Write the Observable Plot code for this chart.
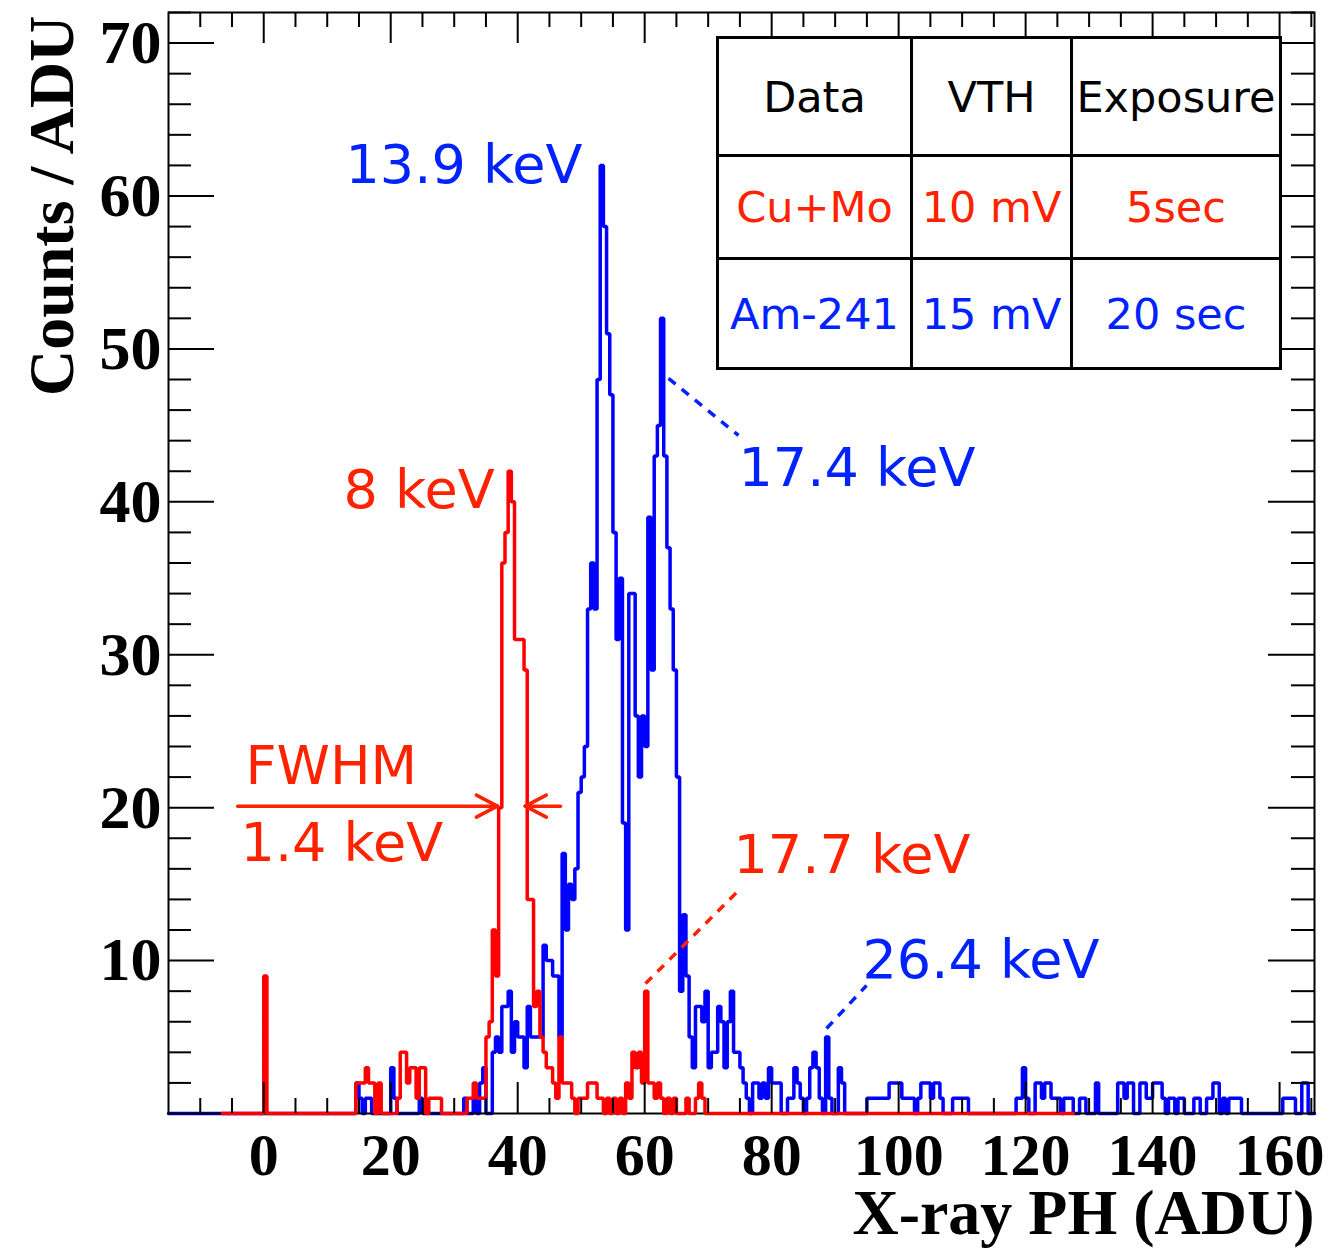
<!DOCTYPE html>
<html><head><meta charset="utf-8">
<script src="https://cdn.jsdelivr.net/npm/d3@7"></script>
<script src="https://cdn.jsdelivr.net/npm/@observablehq/plot@0.6"></script>
<style>
body{margin:0;background:#fff;}
#wrap{position:relative;width:1332px;height:1248px;overflow:hidden;}
#tbl{position:absolute;left:716px;top:36px;width:566px;height:334px;box-sizing:border-box;border:3px solid #000;background:#000;
 display:grid;grid-template-columns:191px 157px 206px;grid-template-rows:115px 100px 107px;gap:3px;
 font-family:"DejaVu Sans",sans-serif;font-size:43px;}
#tbl div{background:#fff;display:flex;align-items:center;justify-content:center;white-space:nowrap;}
</style></head><body><div id="wrap"></div>
<script>
// ---- data (bin lower edge in ADU, counts); bins are 0.5 ADU wide ----
const binWidth = 0.5;
const redRange = [-6.5, 127.5];
const blueRange = [-15, 165.5];
const redBins = [[0,9],
 [14.5,2],[15,2],[15.5,2],[16,3],[16.5,2],[17,2],[18,2],
 [21,1],[21.5,4],[22,4],[22.5,2],[23,3],[23.5,3],[24,1],[24.5,3],[25,3],[26,1],[26.5,1],[27,1],[27.5,1],
 [32,1],[32.5,1],[33,2],[33.5,1],[34,1],[34.5,1],[35,5],[35.5,6],[36,12],[36.5,9],
 [37,20],[37.5,36],[38,38],[38.5,42],[39,40],[39.5,31],[40,31],[40.5,31],[41,29],[41.5,14],[42,14],
 [42.5,7],[43,8],[43.5,5],[44,4],[44.5,3],[45,3],[45.5,2],[46,1],[46.5,5],[47,2],[47.5,2],[48,2],[48.5,1],
 [49.5,1],[50,1],[50.5,1],[51,2],[51.5,2],[52,2],[52.5,1],[53,1],[54,1],[55,1],[56,1],
 [57,2],[57.5,1],[58,4],[58.5,3],[59,4],[59.5,2],[60,8],[60.5,2],[61,2],[61.5,1],[62,2],[62.5,1],
 [63.5,1],[64.5,1],[66.5,1],[68,1],[68.5,2],[69,1]];
const blueBins = [
 [14.5,2],[15,1],[16,1],[16.5,1],[20,3],[20.5,1],[24.5,1],[31.5,1],[33,1],[34,2],[34.5,3],
 [36,4],[36.5,5],[37,4],[37.5,7],[38,7],[38.5,8],[39,4],[39.5,6],[40,5],[40.5,5],[41,3],[41.5,7],
 [42,5],[42.5,5],[43,5],[43.5,5],[44,11],[44.5,10],[45,10],[45.5,9],[46,9],[46.5,5],[47,17],[47.5,12],
 [48,15],[48.5,14],[49,16],[49.5,21],[50,22],[50.5,24],[51,33],[51.5,36],[52,33],[52.5,48],[53,62],
 [53.5,58],[54,51],[54.5,47],[55,38],[55.5,31],[56,35],[56.5,19],[57,12],[57.5,34],[58,34],[58.5,26],
 [59,22],[59.5,26],[60,24],[60.5,39],[61,29],[61.5,43],[62,45],[62.5,52],[63,43],[63.5,37],[64,33],
 [64.5,29],[65,22],[65.5,8],[66,13],[66.5,9],[67,5],[67.5,3],[68,7],[68.5,7],[69,6],[69.5,8],[70,3],
 [70.5,4],[71,4],[71.5,7],[72,6],[72.5,3],[73,6],[73.5,8],[74,4],[74.5,4],[75,3],[75.5,2],[76,1],
 [77,2],[77.5,2],[78,1],[78.5,2],[79,1],[79.5,3],[80,2],[80.5,2],[81,2],[82.5,1],[83,1],[83.5,3],
 [84,2],[84.5,1],[85.5,1],[86,3],[86.5,4],[87,3],[87.5,1],[88.5,5],[89,1],[90.5,3],[91,2],
 [95,1],[95.5,1],[96,1],[96.5,1],[97,1],[97.5,1],[98,1],[98.5,2],[99,2],[99.5,2],[100,2],[100.5,1],
 [101,1],[101.5,1],[102,1],[103,1],[103.5,2],[104,2],[104.5,2],[105,1],[105.5,2],[106,2],[106.5,1],
 [108.5,1],[109,1],[109.5,1],[110,1],[110.5,1],[118.5,1],[119,1],[119.5,3],[120,1],[121.5,2],[122,2],
 [122.5,1],[123,2],[123.5,2],[124,1],[124.5,1],[125,1],[126,1],[126.5,1],[127,1],[128.5,1],[129,1],
 [131,2],[134.5,2],[135,2],[135.5,1],[136,2],[136.5,2],[138,2],[138.5,2],[139,1],[139.5,1],[140,2],
 [140.5,2],[141,2],[141.5,1],[142.5,1],[143,1],[144,1],[144.5,1],[146.5,1],[147,1],[148.5,1],[149,1],
 [149.5,2],[150,2],[151,1],[152,1],[152.5,1],[153,1],[153.5,1],[160.5,1],[161,1],[161.5,1],[162,1],
 [163.5,2],[164,2]];

const xMajor = [0,20,40,60,80,100,120,140,160];
const xMinor = [-10,-5,5,10,15,25,30,35,45,50,55,65,70,75,85,90,95,105,110,115,125,130,135,145,150,155,165];
const yMajor = [10,20,30,40,50,60,70];
const yMinor = [2,4,6,8,12,14,16,18,22,24,26,28,32,34,36,38,42,44,46,48,52,54,56,58,62,64,66,68,72];

const annoText  = ["13.9 keV","17.4 keV","8 keV","FWHM","1.4 keV","17.7 keV","26.4 keV"];
const annoX     = [12.88, 74.78, 12.57, -2.87, -3.65, 73.99, 94.31];
const annoY     = [61.96, 42.14, 40.70, 22.71, 17.61, 16.83, 9.96];
const annoColor = ["b","b","r","r","r","r","b"];

// FWHM arrows: tail x, tip x, y (data units)
const arrowTail = [-4.1, 46.74];
const arrowTip  = [36.8, 41.2];
const arrowY    = 20.1;
const dashes = [
 {x1:63.76,y1:48.07,x2:74.78,y2:44.34,c:"b"},
 {x1:60.13,y1:8.50,x2:74.47,y2:14.45,c:"r"},
 {x1:88.64,y1:5.56,x2:94.94,y2:8.37,c:"b"}];

const tableRows = [["Data","VTH","Exposure"],["Cu+Mo","10 mV","5sec"],["Am-241","15 mV","20 sec"]];
const tableColors = ["#000","#ff2200","#0022ff"];

// ---- build step data ----
function steps(bins, range){
  const m = new Map(bins.map(([e,c])=>[e,c]));
  const n = Math.round((range[1]-range[0])/binWidth);
  const pts = [];
  for(let i=0;i<n;i++){const e = range[0]+i*binWidth; pts.push({x:e, y:m.get(e) ?? 0});}
  pts.push({x:range[1], y:0});
  return pts;
}
const redSteps = steps(redBins, redRange);
const blueSteps = steps(blueBins, blueRange);

const HIST_RED = "#ff0000", HIST_BLUE = "#0000ff";
const TXT_RED = "#ff2200", TXT_BLUE = "#0022ff";
const W=1332, H=1248, mL=168, mR=18, mT=12, mB=135;
const fw=W-mL-mR, fh=H-mT-mB;
const xDomain=[-15,165.5], yDomain=[0,72];
const serif = "'Liberation Serif','Times New Roman',serif";
const sans = "'DejaVu Sans',sans-serif";

// arrow segments (shaft + two wings of ~21px x 11px)
const pxX = (xDomain[1]-xDomain[0])/fw, pxY = (yDomain[1]-yDomain[0])/fh;
const arrowSegs = [];
arrowTip.forEach((tip,i)=>{
  const dir = Math.sign(tip-arrowTail[i]);
  arrowSegs.push({x1:arrowTail[i],y1:arrowY,x2:tip,y2:arrowY});
  arrowSegs.push({x1:tip,y1:arrowY,x2:tip-dir*21*pxX,y2:arrowY+11*pxY});
  arrowSegs.push({x1:tip,y1:arrowY,x2:tip-dir*21*pxX,y2:arrowY-11*pxY});
});

const chart = Plot.plot({
  width:W, height:H, marginLeft:mL, marginRight:mR, marginTop:mT, marginBottom:mB,
  x:{domain:xDomain, axis:null},
  y:{domain:yDomain, axis:null},
  style:{background:"white", overflow:"visible"},
  marks:[
    Plot.line(blueSteps,{x:"x",y:"y",curve:"step-after",stroke:HIST_BLUE,strokeWidth:3.5,strokeLinejoin:"miter"}),
    Plot.frame({stroke:"black",strokeWidth:2}),
    Plot.line(redSteps,{x:"x",y:"y",curve:"step-after",stroke:HIST_RED,strokeWidth:3.5,strokeLinejoin:"miter"}),
    // ticks bottom/top
    Plot.tickX(xMajor,{x:d=>d,insetTop:fh-31,stroke:"black",strokeWidth:2}),
    Plot.tickX(xMinor,{x:d=>d,insetTop:fh-15,stroke:"black",strokeWidth:2}),
    Plot.tickX(xMajor,{x:d=>d,insetBottom:fh-31,stroke:"black",strokeWidth:2}),
    Plot.tickX(xMinor,{x:d=>d,insetBottom:fh-15,stroke:"black",strokeWidth:2}),
    // ticks left/right
    Plot.tickY(yMajor,{y:d=>d,insetRight:fw-46,stroke:"black",strokeWidth:2}),
    Plot.tickY(yMinor,{y:d=>d,insetRight:fw-23,stroke:"black",strokeWidth:2}),
    Plot.tickY(yMajor,{y:d=>d,insetLeft:fw-46,stroke:"black",strokeWidth:2}),
    Plot.tickY(yMinor,{y:d=>d,insetLeft:fw-23,stroke:"black",strokeWidth:2}),
    // tick labels
    Plot.text(xMajor,{x:d=>d,text:d=>String(d),frameAnchor:"bottom",dy:42,lineAnchor:"middle",
      fontFamily:serif,fontWeight:"bold",fontSize:60,fill:"black"}),
    Plot.text(yMajor,{y:d=>d,text:d=>String(d),frameAnchor:"left",dx:-7,textAnchor:"end",lineAnchor:"middle",
      fontFamily:serif,fontWeight:"bold",fontSize:62,fill:"black"}),
    // axis titles
    Plot.text(["X-ray PH (ADU)"],{frameAnchor:"bottom-right",dy:100,textAnchor:"end",lineAnchor:"middle",
      fontFamily:serif,fontWeight:"bold",fontSize:64,fill:"black"}),
    Plot.text(["Counts / ADU"],{frameAnchor:"top-left",dx:-116,dy:3,rotate:-90,textAnchor:"end",lineAnchor:"middle",
      fontFamily:serif,fontWeight:"bold",fontSize:64,fill:"black"}),
    // annotations
    Plot.link(dashes,{x1:"x1",y1:"y1",x2:"x2",y2:"y2",stroke:d=>d.c==="b"?TXT_BLUE:TXT_RED,strokeWidth:3.5,strokeDasharray:"9,8"}),
    Plot.link(arrowSegs,{x1:"x1",y1:"y1",x2:"x2",y2:"y2",stroke:TXT_RED,strokeWidth:3.5,strokeLinecap:"round"}),
    Plot.text(annoText,{x:(d,i)=>annoX[i],y:(d,i)=>annoY[i],text:d=>d,textAnchor:"start",lineAnchor:"middle",
      fill:(d,i)=>annoColor[i]==="b"?TXT_BLUE:TXT_RED,fontFamily:sans,fontSize:54})
  ]
});
const wrap = document.getElementById("wrap");
wrap.appendChild(chart);
const tbl = document.createElement("div");
tbl.id = "tbl";
tableRows.forEach((row,ri)=>row.forEach(cell=>{
  const c = document.createElement("div");
  c.textContent = cell; c.style.color = tableColors[ri];
  tbl.appendChild(c);
}));
wrap.appendChild(tbl);
</script></body></html>
